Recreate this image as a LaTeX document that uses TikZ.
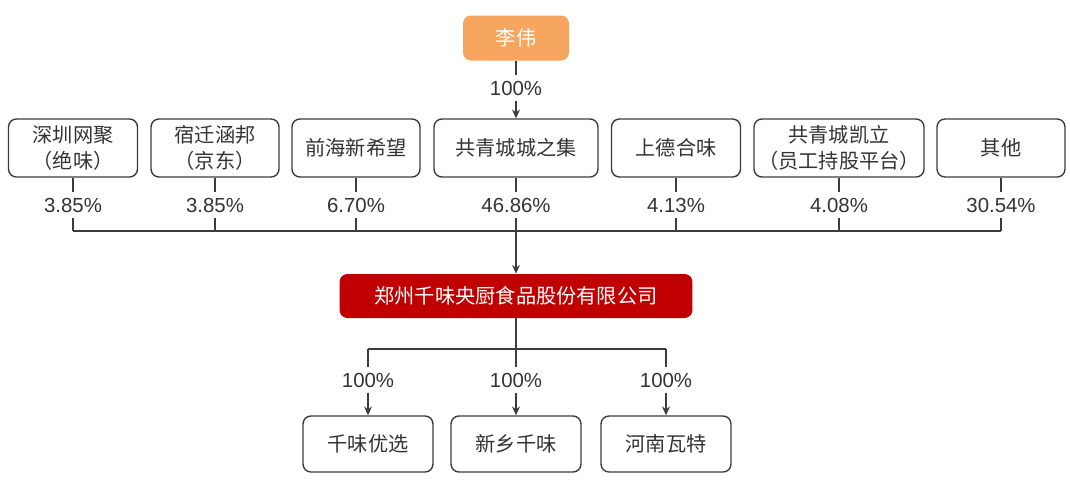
\documentclass[tikz,border=0pt]{standalone}
\usepackage{fontspec}
\setmainfont{Liberation Sans}
\newfontfamily\cjk{Noto Sans CJK SC}
\usepackage{tikz}
\usetikzlibrary{arrows.meta}
\usepackage{xcolor}
\definecolor{lnclr}{HTML}{3C3C3C}
\definecolor{txtclr}{HTML}{333333}
\definecolor{orng}{HTML}{F6A65E}
\definecolor{dkred}{HTML}{C00000}

\begin{document}
\begin{tikzpicture}[x=0.02cm,y=-0.02cm,
  holder/.style={draw=lnclr,line width=0.8pt,rounded corners=4.5pt,align=center,inner sep=0pt,
    text=txtclr,font={\cjk\fontsize{11.5}{14.5}\selectfont},minimum width=2.58cm,minimum height=1.16cm},
  pct/.style={inner sep=3pt,text=txtclr,font={\fontsize{11.6}{14}\selectfont}},
  link/.style={draw=lnclr,line width=0.75pt},
  arr/.style={link,-{Stealth[length=5pt,width=4.5pt]}}]
\useasboundingbox (0,0) rectangle (1070,484);

% top holder
\node[fill=orng,rounded corners=4.5pt,minimum width=2.12cm,minimum height=0.9cm,text=white,
  font={\cjk\fontsize{11.5}{14.5}\selectfont}] (lw) at (516,38) {李伟};
\node[pct] (p0) at (516,88) {100\%};

% shareholders
\node[holder] (sz) at (73,148) {深圳网聚\\（绝味）};
\node[holder,minimum width=2.56cm] (sq) at (215,148) {宿迁涵邦\\（京东）};
\node[holder,minimum width=2.56cm] (qh) at (356,148) {前海新希望};
\node[holder,minimum width=3.28cm] (gqc) at (516,148) {共青城城之集};
\node[holder] (sd) at (676,148) {上德合味};
\node[holder,minimum width=3.4cm] (ky) at (839,148) {共青城凯立\\（员工持股平台）};
\node[holder,minimum width=2.56cm] (qt) at (1001,148) {其他};

\node[pct] (psz) at (73,205) {3.85\%};
\node[pct] (psq) at (215,205) {3.85\%};
\node[pct] (pqh) at (356,205) {6.70\%};
\node[pct] (pgqc) at (516,205) {46.86\%};
\node[pct] (psd) at (676,205) {4.13\%};
\node[pct] (pky) at (839,205) {4.08\%};
\node[pct] (pqt) at (1001,205) {30.54\%};

\coordinate (bsz) at (73,231);
\coordinate (bsq) at (215,231);
\coordinate (bqh) at (356,231);
\coordinate (bgqc) at (516,231);
\coordinate (bsd) at (676,231);
\coordinate (bky) at (839,231);
\coordinate (bqt) at (1001,231);

% company
\node[fill=dkred,rounded corners=4.5pt,minimum width=7.06cm,minimum height=0.88cm,text=white,
  font={\cjk\fontsize{11.5}{14.5}\selectfont}] (qw) at (516,296) {郑州千味央厨食品股份有限公司};

% subsidiaries
\node[pct] (py) at (368,380) {100\%};
\node[pct] (px) at (516,380) {100\%};
\node[pct] (pw) at (666,380) {100\%};
\node[holder,minimum width=2.6cm,minimum height=1.12cm] (yx) at (368,444) {千味优选};
\node[holder,minimum width=2.6cm,minimum height=1.12cm] (xx) at (516,444) {新乡千味};
\node[holder,minimum width=2.6cm,minimum height=1.12cm] (wt) at (666,444) {河南瓦特};
\coordinate (c1) at (368,349);
\coordinate (c3) at (666,349);

\draw[link] (lw.south) -- (p0.north);
\draw[arr] (p0.south) -- (gqc.north);

\draw[link] (sz.south) -- (psz.north); \draw[link] (psz.south) -- (bsz);
\draw[link] (sq.south) -- (psq.north); \draw[link] (psq.south) -- (bsq);
\draw[link] (qh.south) -- (pqh.north); \draw[link] (pqh.south) -- (bqh);
\draw[link] (gqc.south) -- (pgqc.north); \draw[link] (pgqc.south) -- (bgqc);
\draw[link] (sd.south) -- (psd.north); \draw[link] (psd.south) -- (bsd);
\draw[link] (ky.south) -- (pky.north); \draw[link] (pky.south) -- (bky);
\draw[link] (qt.south) -- (pqt.north); \draw[link] (pqt.south) -- (bqt);
\draw[link] (bsz) -- (bqt);
\draw[arr] (bgqc) -- (qw.north);

\draw[link] (qw.south) -- (px.north);
\draw[link] (c1) -- (c3);
\draw[link] (c1) -- (py.north);
\draw[link] (c3) -- (pw.north);
\draw[arr] (py.south) -- (yx.north);
\draw[arr] (px.south) -- (xx.north);
\draw[arr] (pw.south) -- (wt.north);
\end{tikzpicture}
\end{document}
